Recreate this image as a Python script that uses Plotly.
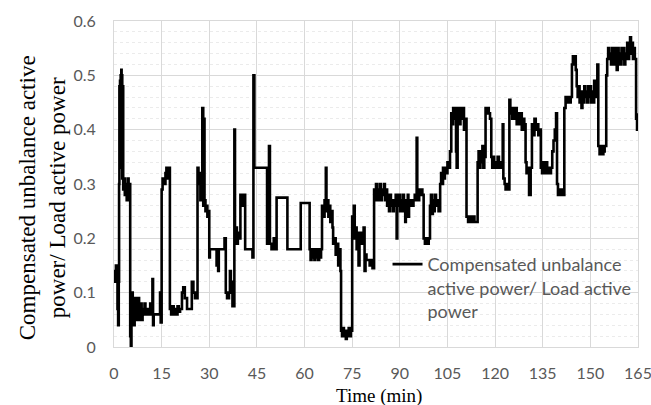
import plotly.graph_objects as go

# Sampled ratio of compensated unbalance active power to load active power
time_min = [
    0, 0.3, 0.6, 0.9, 1.1, 1.3, 1.5, 1.6, 1.7, 1.8, 1.9, 2.0, 2.1, 2.2, 2.3, 2.4, 2.5, 2.6, 2.8, 2.9, 3.1, 3.4, 3.7, 4.0, 4.3, 4.6, 4.9,
    5.1, 5.3, 5.5, 5.7, 5.9, 6.1, 6.3, 6.5, 6.7, 6.9, 7.1, 7.3, 7.5, 7.7, 7.9, 8.1, 8.4, 8.7, 9.0, 9.3, 9.6, 9.9, 10.5, 11.0, 11.4, 11.7, 12.1, 12.3, 12.5, 13.5, 14.5, 14.7, 15.0, 15.3, 15.8, 16.2, 16.5, 16.9, 17.1,
    17.6, 18.0, 18.4, 18.8, 19.2, 19.6, 20.0, 20.4, 20.8, 21.4, 21.8, 22.3, 23.0, 24.5, 25.0, 25.5,
    26.3, 26.6, 26.9, 27.2, 27.5, 27.8, 28.1, 28.3, 28.5, 28.8, 29.1, 29.4, 29.7,
    30.0, 30.2, 32.3, 32.5, 32.8, 33.0, 34.8, 35.2, 35.6, 36.2, 36.5, 36.8, 37.3,
    37.9, 38.1, 38.4, 38.7, 39.0, 39.4, 39.8, 40.2, 40.6, 41.3, 43.6, 43.9,
    44.2, 48.2, 48.5, 48.8, 49.1, 49.6, 50.3, 50.8, 51.2, 54.6,
    58.8, 61.6, 61.9, 62.2, 62.5, 62.8, 63.1, 63.4, 63.7, 64.0, 64.3, 64.6, 64.9, 65.2, 65.5, 65.9, 66.3, 66.7, 66.9, 67.2, 67.5, 67.8, 68.1, 68.4, 68.8, 69.0, 69.4, 69.8, 70.2, 70.6, 71.0, 71.3,
    71.5, 71.8, 72.1, 72.4, 72.7, 73.0, 73.3, 73.6, 73.9, 74.2, 74.6,
    75.0, 75.3, 75.5, 75.8, 76.1, 76.4, 76.7, 77.0, 77.3, 77.6, 78.0, 78.3, 78.6, 78.9, 79.2, 79.5, 80.5, 81.0, 81.4,
    81.9, 82.2, 82.5, 82.8, 83.1, 83.4, 83.7, 84.0, 84.3, 84.6, 85.0, 85.3, 85.7, 86.0, 86.3, 86.6, 86.9, 87.2, 87.5, 87.8,
    88.1, 88.4, 88.7, 89.0, 89.2, 89.5, 89.8, 90.1, 90.4, 90.7, 91.0, 91.3, 91.7, 91.9, 92.2, 92.5, 92.7, 92.9, 93.2, 93.5,
    93.9, 94.3, 94.7, 95.0, 95.3, 95.5, 95.8, 96.1, 96.4, 96.7, 97.1, 97.5, 97.9, 98.3, 98.7, 99.1,
    99.5, 99.8, 100.1, 100.4, 100.7, 101.0, 101.4, 101.8, 102.2, 102.7, 103.0, 103.3, 103.6, 103.9, 104.2, 104.6, 105.0,
    105.4, 105.8, 106.2, 106.5, 106.8, 107.1, 107.4, 107.7, 107.9, 108.2, 108.5, 108.8, 109.1, 109.4, 109.8, 110.2, 110.6,
    111.0, 111.5, 112.0, 112.5, 113.0, 113.5, 114.5, 114.8, 115.1, 115.4, 115.7, 116.0, 116.3, 116.6, 117.0, 117.3, 117.6, 118.0,
    118.4, 118.8, 119.1, 119.4, 119.7, 120.0, 120.4, 120.8, 121.2, 121.6, 122.0, 122.4, 122.6, 123.0, 123.3, 123.7, 124.0,
    124.5, 124.8, 125.1, 125.4, 125.7, 126.0, 126.4, 126.8, 127.2, 127.6, 128.0, 128.4, 128.8, 129.2, 129.6, 129.9, 130.3, 130.7,
    131.2, 131.6, 132.0, 132.4, 132.8, 133.2, 133.6, 134.0, 134.4, 134.8, 135.2, 135.6, 136.0, 136.4, 136.8, 137.2, 137.6,
    138.0, 138.4, 138.8, 139.2, 139.5, 139.8, 140.2, 140.6, 141.0, 141.4,
    141.8, 142.2, 142.6, 143.0, 143.4, 143.8, 144.2, 144.5, 144.8, 145.1, 145.4, 145.7, 146.0, 146.3, 146.6, 146.9,
    147.2, 147.5, 147.8, 148.1, 148.4, 148.7, 149.0, 149.3, 149.6, 149.9, 150.2, 150.5, 150.8, 151.2, 151.5, 151.9,
    152.2, 152.5, 152.9, 153.3, 153.7, 154.1, 154.5, 155.0, 155.3, 155.6, 155.9, 156.2, 156.5, 156.8, 157.1, 157.4,
    157.7, 158.0, 158.3, 158.6, 158.9, 159.2, 159.5, 159.8, 160.1, 160.4, 160.7, 161.0, 161.3, 161.6, 161.9, 162.2,
    162.5, 162.8, 163.1, 163.4, 163.7, 164.0, 164.4, 164.7, 165.0,
]
ratio = [
    0.14, 0.12, 0.15, 0.13, 0.07, 0.04, 0.12, 0.30, 0.48, 0.33, 0.49, 0.36, 0.50, 0.40, 0.51, 0.34, 0.50, 0.31, 0.48, 0.29, 0.31, 0.28, 0.30, 0.27, 0.31, 0.28, 0.30,
    0.02, 0.0, 0.04, 0.10, 0.05, 0.09, 0.04, 0.08, 0.06, 0.09, 0.05, 0.08, 0.06, 0.09, 0.05, 0.07, 0.08, 0.05, 0.07, 0.06, 0.08, 0.06, 0.07, 0.06, 0.08, 0.06, 0.125, 0.04, 0.06, 0.06, 0.10, 0.045, 0.29, 0.31, 0.30, 0.32, 0.33, 0.31, 0.33,
    0.07, 0.06, 0.075, 0.06, 0.07, 0.06, 0.075, 0.065, 0.07, 0.10, 0.11, 0.09, 0.07, 0.12, 0.10, 0.09,
    0.33, 0.30, 0.32, 0.27, 0.29, 0.44, 0.26, 0.42, 0.27, 0.25, 0.26, 0.24, 0.25,
    0.165, 0.18, 0.15, 0.18, 0.14, 0.18, 0.20, 0.10, 0.09, 0.10, 0.14, 0.12, 0.075,
    0.40, 0.20, 0.22, 0.19, 0.21, 0.20, 0.28, 0.26, 0.28, 0.18, 0.165, 0.50,
    0.33, 0.19, 0.21, 0.37, 0.19, 0.18, 0.20, 0.18, 0.275, 0.18,
    0.265, 0.18, 0.16, 0.18, 0.165, 0.18, 0.16, 0.18, 0.165, 0.18, 0.16, 0.18, 0.165, 0.18, 0.26, 0.24, 0.27, 0.33, 0.25, 0.27, 0.24, 0.26, 0.23, 0.25, 0.22, 0.19, 0.20, 0.17, 0.19, 0.15, 0.18, 0.14,
    0.03, 0.02, 0.035, 0.02, 0.03, 0.015, 0.03, 0.02, 0.035, 0.02, 0.03,
    0.24, 0.21, 0.26, 0.20, 0.22, 0.18, 0.21, 0.15, 0.21, 0.19, 0.21, 0.19, 0.22, 0.14, 0.17, 0.16, 0.15, 0.16, 0.145,
    0.29, 0.27, 0.30, 0.27, 0.29, 0.27, 0.30, 0.27, 0.29, 0.28, 0.30, 0.27, 0.29, 0.26, 0.28, 0.25, 0.28, 0.26, 0.27, 0.25,
    0.27, 0.26, 0.28, 0.20, 0.27, 0.26, 0.28, 0.25, 0.27, 0.25, 0.28, 0.26, 0.23, 0.27, 0.26, 0.28, 0.24, 0.27, 0.26, 0.27,
    0.26, 0.27, 0.28, 0.27, 0.385, 0.29, 0.27, 0.29, 0.28, 0.29, 0.28, 0.20, 0.19, 0.20, 0.19, 0.20,
    0.26, 0.28, 0.245, 0.27, 0.25, 0.28, 0.26, 0.27, 0.25, 0.30, 0.32, 0.30, 0.33, 0.31, 0.33, 0.32, 0.34,
    0.33, 0.36, 0.43, 0.41, 0.44, 0.42, 0.44, 0.36, 0.33, 0.42, 0.44, 0.41, 0.44, 0.42, 0.44, 0.40, 0.42,
    0.24, 0.23, 0.24, 0.23, 0.24, 0.23, 0.34, 0.36, 0.33, 0.36, 0.34, 0.37, 0.33, 0.35, 0.44, 0.43, 0.44, 0.43,
    0.42, 0.35, 0.33, 0.35, 0.33, 0.34, 0.33, 0.35, 0.33, 0.34, 0.33, 0.41, 0.31, 0.30, 0.29, 0.30, 0.29,
    0.455, 0.43, 0.44, 0.42, 0.44, 0.42, 0.44, 0.41, 0.43, 0.41, 0.43, 0.40, 0.42, 0.41, 0.34, 0.32, 0.33, 0.28,
    0.33, 0.41, 0.39, 0.42, 0.40, 0.41, 0.39, 0.40, 0.33, 0.32, 0.34, 0.32, 0.34, 0.32, 0.33, 0.32, 0.33,
    0.36, 0.38, 0.40, 0.43, 0.30, 0.28, 0.29, 0.28, 0.29, 0.28,
    0.44, 0.46, 0.45, 0.46, 0.45, 0.46, 0.52, 0.535, 0.52, 0.535, 0.51, 0.48, 0.46, 0.48, 0.45, 0.47,
    0.44, 0.47, 0.45, 0.48, 0.46, 0.47, 0.45, 0.48, 0.46, 0.48, 0.45, 0.47, 0.45, 0.49, 0.46, 0.48,
    0.52, 0.37, 0.355, 0.37, 0.355, 0.36, 0.37, 0.50, 0.53, 0.55, 0.53, 0.54, 0.52, 0.55, 0.53, 0.52,
    0.55, 0.53, 0.51, 0.55, 0.52, 0.54, 0.52, 0.55, 0.53, 0.55, 0.52, 0.54, 0.53, 0.56, 0.53, 0.55,
    0.57, 0.54, 0.56, 0.53, 0.55, 0.53, 0.42, 0.40, 0.43,
]
assert len(time_min) == len(ratio)

x_ticks = [0, 15, 30, 45, 60, 75, 90, 105, 120, 135, 150, 165]
y_ticks = [0, 0.1, 0.2, 0.3, 0.4, 0.5, 0.6]

series_name = "Compensated unbalance<br>active power/ Load active<br>power"
y_title = "Compensated unbalance active<br>power/ Load active power"
x_title = "Time (min)"

tick_font = dict(family="Lato, sans-serif", size=16, color="#595959")
serif = "Liberation Serif, Times New Roman, serif"

fig = go.Figure()
fig.add_trace(go.Scatter(
    x=time_min, y=ratio, mode="lines", name=series_name,
    line=dict(color="black", width=2.6, shape="hv"),
))

fig.update_layout(
    width=651, height=405,
    margin=dict(l=114, r=13, t=21, b=58),
    paper_bgcolor="white", plot_bgcolor="white",
    showlegend=True,
    legend=dict(
        x=0.522, y=0.31, xanchor="left", yanchor="top", valign="top",
        font=dict(family="Lato, sans-serif", size=18, color="#595959"),
        bgcolor="rgba(0,0,0,0)", borderwidth=0,
    ),
    annotations=[
        dict(text=y_title, xref="paper", yref="paper", x=-0.137, y=0.457,
             xanchor="center", yanchor="middle", textangle=-90, showarrow=False,
             font=dict(family=serif, size=23, color="black")),
        dict(text=x_title, xref="paper", yref="paper", x=0.505, y=-0.15,
             xanchor="center", yanchor="middle", showarrow=False,
             font=dict(family=serif, size=19, color="black")),
    ],
)

fig.update_xaxes(
    range=[0, 165], tickvals=x_ticks, tickfont=tick_font,
    showgrid=True, gridcolor="#d9d9d9", gridwidth=1, zeroline=False,
    showline=True, linecolor="#d9d9d9", linewidth=1, mirror=True,
    ticks="", ticklabelstandoff=12, ticklabeloverflow="allow", automargin=False,
)
fig.update_yaxes(
    range=[0, 0.6], tickvals=y_ticks, tickfont=tick_font,
    showgrid=True, gridcolor="#d9d9d9", gridwidth=1, zeroline=False,
    showline=True, linecolor="#d9d9d9", linewidth=1, mirror=True,
    ticks="", ticklabelstandoff=14, ticklabeloverflow="allow", automargin=False,
    minor=dict(dtick=0.02, showgrid=True, gridcolor="#ebebeb", griddash="dot"),
)

fig.write_html("out.html")
